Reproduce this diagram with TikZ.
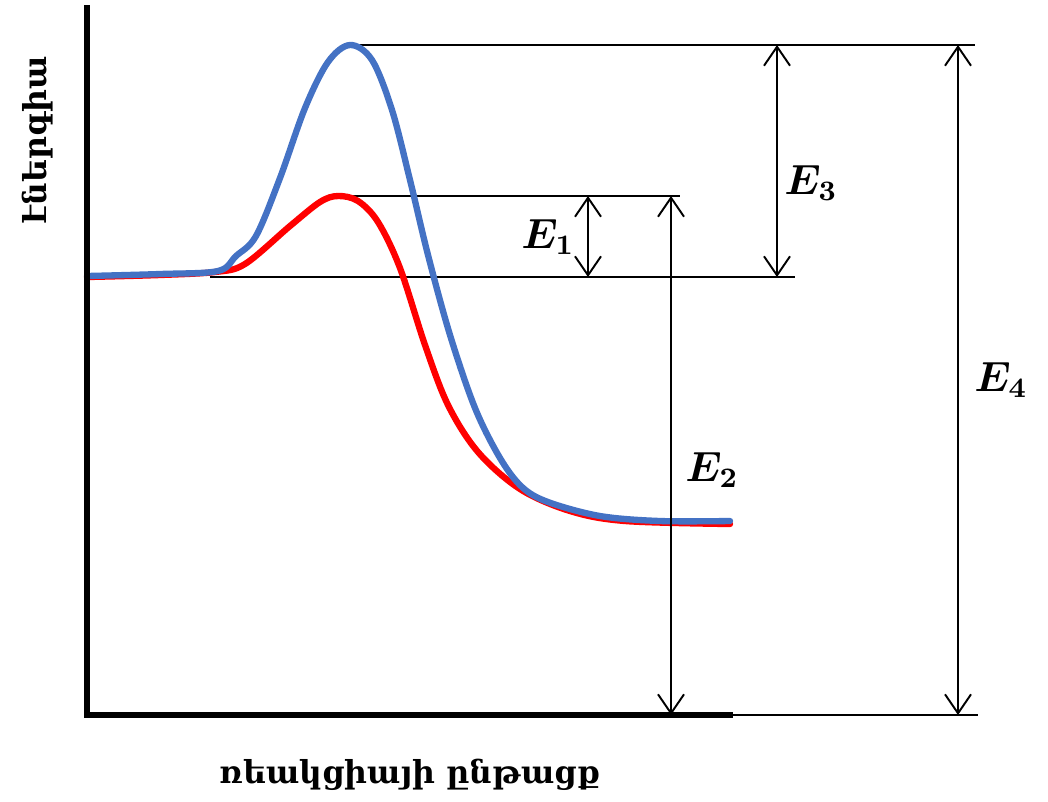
\documentclass[tikz,border=0pt]{standalone}
\usepackage{amsmath,amssymb,bm}
\usepackage{fontspec}
\newfontfamily\armfont{DejaVu Serif}
\usepackage{tikz}
\usetikzlibrary{arrows.meta,calc,positioning}
\definecolor{curveblue}{HTML}{4472C4}

\begin{document}
\begin{tikzpicture}[
  x=0.1mm, y=-0.1mm,
  axis/.style={line width=1.5pt, line cap=rect},
  guide/.style={line width=0.55pt},
  dim/.style={line width=0.55pt, {Straight Barb[length=1.9mm,width=2.6mm,line width=0.55pt]}-{Straight Barb[length=1.9mm,width=2.6mm,line width=0.55pt]}},
  path/.style={line width=1.8pt, line cap=round, line join=round},
  elab/.style={font=\fontsize{12}{14}\selectfont},
  axlab/.style={font=\armfont\bfseries\fontsize{9}{11}\selectfont}
]
\useasboundingbox (0,0) rectangle (1048,801);

% reference levels
\coordinate (origin) at (87,715);
\coordinate (ytop) at (87,8);
\coordinate (xend) at (730,715);
\coordinate (react) at (210,277);
\coordinate (rpeak) at (338,196);
\coordinate (bpeak) at (350,45);
\coordinate (e1top) at (588,196);
\coordinate (e1bot) at (588,277);
\coordinate (e2top) at (671,196);
\coordinate (e2bot) at (671,715);
\coordinate (e3top) at (777,45);
\coordinate (e3bot) at (777,277);
\coordinate (e4top) at (958,45);
\coordinate (e4bot) at (958,715);
\coordinate (rline) at (795,277);
\coordinate (redline) at (680,196);
\coordinate (blueline) at (975,45);
\coordinate (bline) at (978,715);

\draw[guide] (react) -- (rline);
\draw[guide] (rpeak) -- (redline);
\draw[guide] (bpeak) -- (blueline);
\draw[guide] (xend) -- (bline);

\draw[red, path] plot[smooth, tension=0.55] coordinates {
  (87,277) (160,275) (215,272) (245,264) (290,226) (320,202) (338,196)
  (358,201) (378,222) (400,268) (425,345) (448,405) (478,452)
  (520,489) (570,511) (625,521) (730,524)};
\draw[curveblue, path] plot[smooth, tension=0.55] coordinates {
  (87,276) (160,274) (218,271) (236,256) (256,236) (280,178) (305,108)
  (328,62) (350,45) (372,60) (392,110) (410,180) (428,255) (450,335)
  (475,408) (500,458) (522,487) (548,502) (600,516) (660,521) (730,521)};

\draw[axis] (ytop) -- (origin) -- (xend);

\draw[dim] (e1top) -- (e1bot);
\draw[dim] (e2top) -- (e2bot);
\draw[dim] (e3top) -- (e3bot);
\draw[dim] (e4top) -- (e4bot);

\node[elab] (e1) at (548,237) {$\bm{E}_{\bm{1}}$};
\node[elab] (e2) at (712,470) {$\bm{E}_{\bm{2}}$};
\node[elab] (e3) at (811,183) {$\bm{E}_{\bm{3}}$};
\node[elab] (e4) at (1001,380) {$\bm{E}_{\bm{4}}$};

\node[axlab, rotate=90] (ylab) at (38,140) {էներգիա};
\node[axlab] (xlab) at (410,775) {ռեակցիայի ընթացք};
\end{tikzpicture}
\end{document}
